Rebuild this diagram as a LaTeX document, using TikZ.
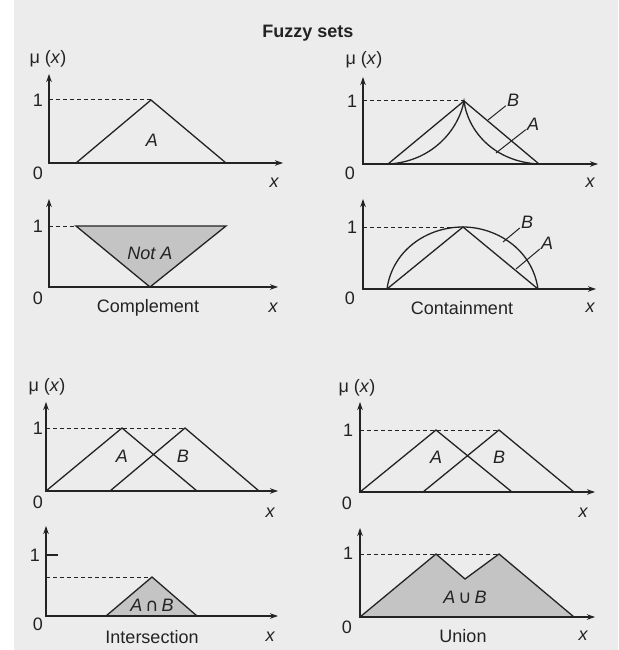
\documentclass[tikz,border=0pt]{standalone}
\usepackage{fontspec}
\setmainfont{Liberation Sans}
\newfontfamily\symbolfont{DejaVu Sans}
\usetikzlibrary{arrows.meta}
\definecolor{pagegray}{RGB}{236,236,236}
\definecolor{setgray}{RGB}{196,196,196}
\definecolor{ink}{RGB}{35,35,35}
\tikzset{
  axis/.style={ink,line width=1.1pt,{Stealth[length=8pt,width=5.5pt]}-{Stealth[length=8pt,width=5.5pt]}},
  curve/.style={ink,line width=1.3pt,line join=miter},
  level/.style={ink,line width=1pt,dash pattern=on 4pt off 3pt},
  leader/.style={ink,line width=1pt},
  lbl/.style={text=ink,inner sep=0pt,font=\fontsize{18}{20}\selectfont},
  setlbl/.style={lbl,font=\fontsize{18}{20}\selectfont\itshape},
}

\begin{document}
\begin{tikzpicture}[x=1pt,y=-1pt]
  \useasboundingbox (0,0) rectangle (618,650);
  \fill[pagegray] (14,0) rectangle (618,650);
  \node[lbl,font=\fontsize{18}{20}\selectfont\bfseries] (title) at (308,33) {Fuzzy sets};

  % Top left: the set A
  \draw[axis] (49,74) |- (283,163);
  \draw[level] (49,100) -- (151,100);
  \draw[curve] (76,163) -- (151,100) -- (226,163);
  \node[lbl] (mu1) at (48,59) {μ (\textit{x})};
  \node[lbl] (one1) at (38,100) {1};
  \node[lbl] (zero1) at (38,173) {0};
  \node[setlbl] (x1) at (274,183) {x};
  \node[setlbl] (setA1) at (152,140) {A};

  % Complement
  \fill[setgray] (76,226) -- (226,226) -- (150,287) -- cycle;
  \draw[curve] (76,226) -- (226,226) -- (150,287) -- cycle;
  \draw[axis] (49,199) |- (278,287);
  \draw[level] (49,226) -- (76,226);
  \node[lbl] (one2) at (38,226) {1};
  \node[lbl] (zero2) at (38,298) {0};
  \node[setlbl] (notA) at (150,253) {Not A};
  \node[lbl] (comp) at (148,308) {Complement};
  \node[setlbl] (x2) at (273,308) {x};

  % Top right: A contained in B
  \draw[axis] (363,77) |- (598,164);
  \draw[level] (363,101) -- (464,101);
  \draw[curve] (388,164) -- (464,101) -- (539,164);
  \draw[curve] (388,164) .. controls (430,162) and (458,132) .. (464,101)
    .. controls (468,132) and (495,162) .. (539,164);
  \node[lbl] (mu3) at (364,60) {μ (\textit{x})};
  \node[lbl] (one3) at (352,101) {1};
  \node[lbl] (zero3) at (350,173) {0};
  \node[setlbl] (x3) at (590,183) {x};
  \node[setlbl,inner sep=1pt] (setB3) at (513,100) {B};
  \node[setlbl,inner sep=1pt] (setA3) at (533,124) {A};
  \coordinate (onB3) at (488,120);
  \coordinate (onA3) at (496,153);
  \draw[leader] (onB3) -- (setB3);
  \draw[leader] (onA3) -- (setA3);

  % Containment
  \draw[axis] (363,199) |- (596,289);
  \draw[level] (363,227) -- (463,227);
  \draw[curve] (387,289) -- (463,227) -- (538,289);
  \draw[curve] (387,289) .. controls (392,252) and (425,227) .. (463,227)
    .. controls (495,227) and (532,248) .. (538,289);
  \node[lbl] (one4) at (352,227) {1};
  \node[lbl] (zero4) at (350,298) {0};
  \node[lbl] (cont) at (462,308) {Containment};
  \node[setlbl] (x4) at (590,308) {x};
  \node[setlbl,inner sep=1pt] (setB4) at (527,222) {B};
  \node[setlbl,inner sep=1pt] (setA4) at (547,243) {A};
  \coordinate (onB4) at (503,242);
  \coordinate (onA4) at (516,269);
  \draw[leader] (onB4) -- (setB4);
  \draw[leader] (onA4) -- (setA4);

  % Bottom left: A and B
  \draw[axis] (46,402) |- (278,491);
  \draw[level] (46,428) -- (185,428);
  \draw[curve] (46,491) -- (122,428) -- (197,491);
  \draw[curve] (110,491) -- (185,428) -- (259,491);
  \node[lbl] (mu5) at (47,387) {μ (\textit{x})};
  \node[lbl] (one5) at (38,428) {1};
  \node[lbl] (zero5) at (38,502) {0};
  \node[setlbl] (x5) at (270,513) {x};
  \node[setlbl] (setA5) at (122,456) {A};
  \node[setlbl] (setB5) at (183,456) {B};

  % Intersection
  \fill[setgray] (106,616) -- (152,577) -- (197,616) -- cycle;
  \draw[curve] (106,616) -- (152,577) -- (197,616);
  \draw[axis] (46,526) |- (278,616);
  \draw[curve] (46,555) -- (58,555);
  \draw[level] (46,577) -- (152,577);
  \node[lbl] (one6) at (35,555) {1};
  \node[lbl] (zero6) at (38,624) {0};
  \node[lbl] (inter) at (152,637) {Intersection};
  \node[setlbl] (x6) at (270,637) {x};
  \node[lbl] (setAB6) at (152,605) {\textit{A}\,{\symbolfont ∩}\,\textit{B}};

  % Bottom right: A and B
  \draw[axis] (360,402) |- (595,492);
  \draw[level] (360,430) -- (499,430);
  \draw[curve] (360,492) -- (436,430) -- (512,492);
  \draw[curve] (423,492) -- (499,430) -- (574,492);
  \node[lbl] (mu7) at (357,388) {μ (\textit{x})};
  \node[lbl] (one7) at (348,430) {1};
  \node[lbl] (zero7) at (347,503) {0};
  \node[setlbl] (x7) at (583,513) {x};
  \node[setlbl] (setA7) at (436,457) {A};
  \node[setlbl] (setB7) at (499,457) {B};

  % Union
  \fill[setgray] (360,617) -- (436,554) -- (465,579) -- (499,554) -- (574,617) -- cycle;
  \draw[curve] (360,617) -- (436,554) -- (465,579) -- (499,554) -- (574,617);
  \draw[axis] (360,528) |- (595,617);
  \draw[level] (360,554) -- (499,554);
  \node[lbl] (one8) at (348,553) {1};
  \node[lbl] (zero8) at (347,627) {0};
  \node[lbl] (union) at (463,636) {Union};
  \node[setlbl] (x8) at (583,636) {x};
  \node[lbl] (setAB8) at (465,597) {\textit{A}\,{\symbolfont ∪}\,\textit{B}};
\end{tikzpicture}
\end{document}
